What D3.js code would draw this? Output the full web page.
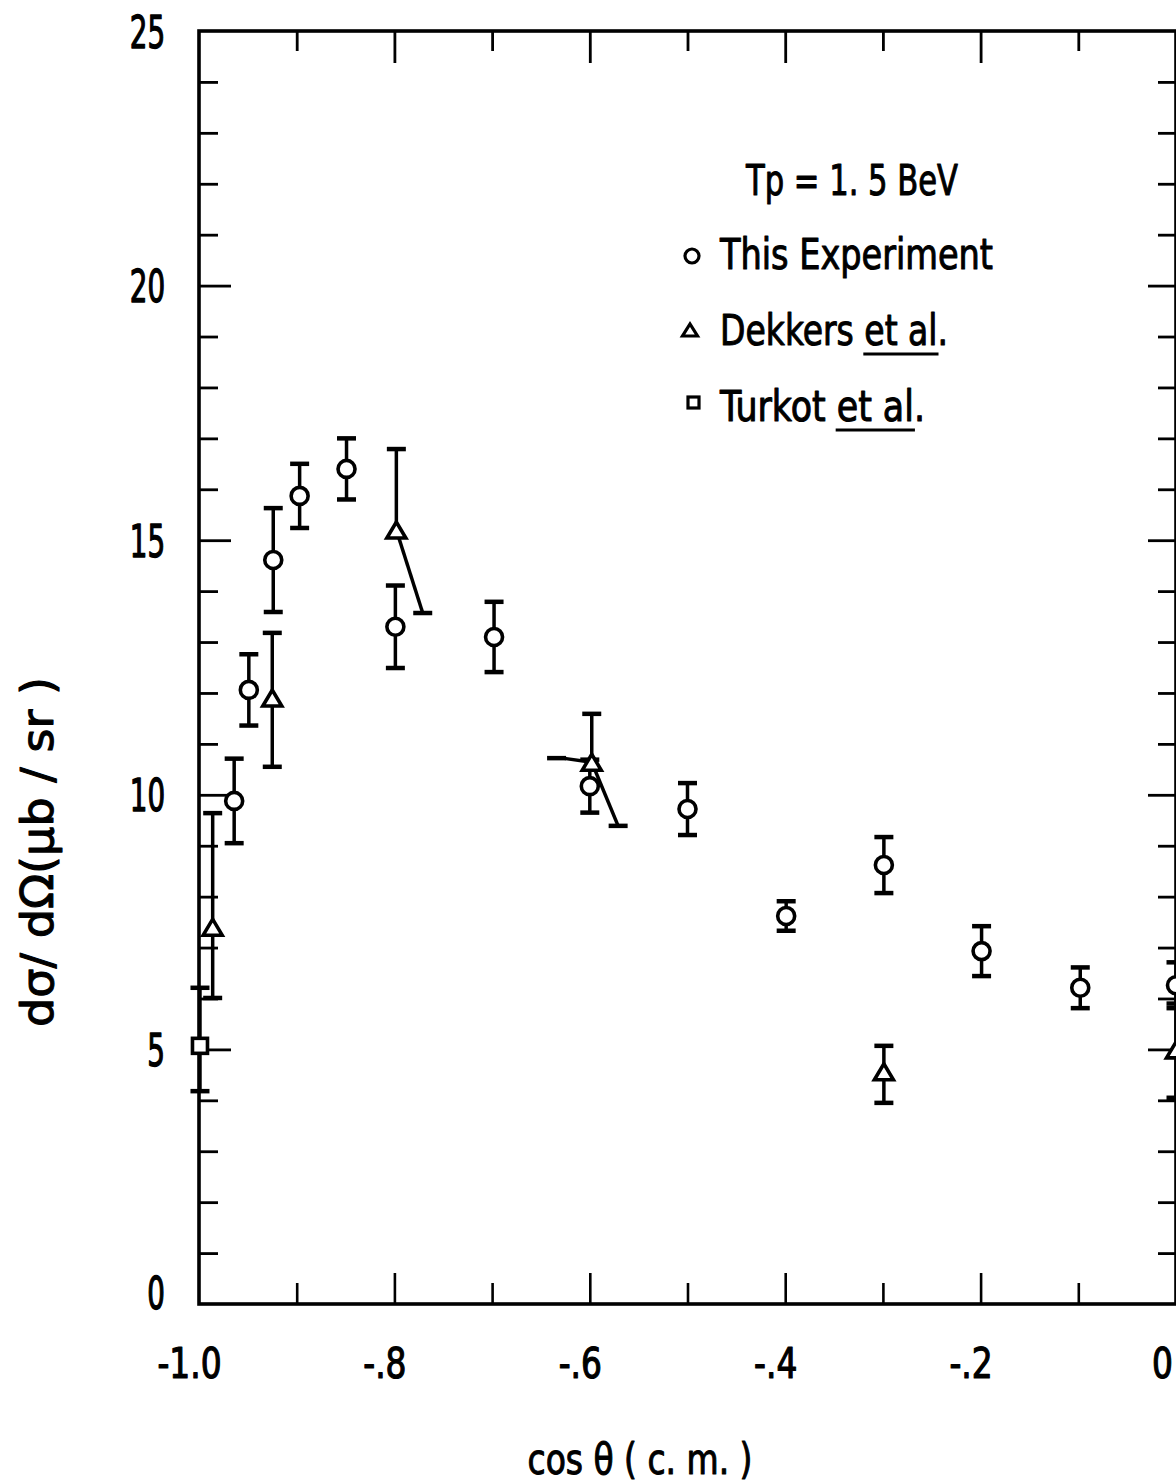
<!DOCTYPE html>
<html><head><meta charset="utf-8">
<script src="https://cdn.jsdelivr.net/npm/d3@7"></script>
<style>html,body{margin:0;padding:0;background:#fff;overflow:hidden}</style>
</head><body>
<svg id="chart" width="1176" height="1484"></svg>
<script>
// ---------- data ----------
// This Experiment (circles)
const expCos = [-0.964, -0.949, -0.924, -0.897, -0.849, -0.799, -0.698, -0.600, -0.500, -0.399, -0.299, -0.199, -0.098, 0.0];
const expVal = [9.88, 12.06, 14.61, 15.87, 16.40, 13.30, 13.10, 10.17, 9.72, 7.62, 8.62, 6.93, 6.21, 6.26];
const expErr = [0.83, 0.70, 1.02, 0.63, 0.60, 0.81, 0.69, 0.52, 0.51, 0.29, 0.55, 0.49, 0.40, 0.45];
// Dekkers et al. (triangles)
const dekCos  = [-0.986, -0.925, -0.798, -0.598, -0.299, 0.0];
const dekVal  = [7.40, 11.90, 15.20, 10.64, 4.56, 4.99];
const dekHigh = [9.64, 13.18, 16.79, 11.59, 5.07, 5.90];
const dekLow  = [6.01, 10.55, 13.57, 9.39, 3.95, 4.05];
const dekLowCos  = [-0.986, -0.925, -0.771, -0.571, -0.299, 0.0];
const dekSideCos = [null, null, null, -0.634, null, null];
const dekSideVal = [null, null, null, 10.72, null, null];
// Turkot et al. (square)
const turCos  = [-0.999];
const turVal  = [5.07];
const turHigh = [6.21];
const turLow  = [4.18];
// axes
const yMajor = [0, 5, 10, 15, 20, 25];
const yMinor = d3.range(1, 25).filter(v => v % 5 !== 0);
const yTickLabels = ["0", "5", "10", "15", "20", "25"];
const xMajor = [-1.0, -0.8, -0.6, -0.4, -0.2, 0.0];
const xMinor = [-0.9, -0.7, -0.5, -0.3, -0.1];
const xTickLabels = ["-1.0", "-.8", "-.6", "-.4", "-.2", "0"];
const xTitle = "cos \u03b8 ( c. m. )";
const yTitle = "d\u03c3/ d\u03a9(\u03bcb / sr )";
const legendTitle = "Tp = 1. 5 BeV";
const legendLabels = ["This Experiment", "Dekkers et al.", "Turkot et al."];
const legendUnderline = [null, "et al", "et al"];

// ---------- drawing ----------
const FONT = "'DejaVu Sans Condensed', 'DejaVu Sans', sans-serif";
const svg = d3.select("#chart");
const x = d3.scaleLinear().domain([-1, 0]).range([199, 1176]);
const y = d3.scaleLinear().domain([0, 25]).range([1304, 31]);

function squeeze(sel, k) {
  sel.each(function () {
    const w = this.getComputedTextLength();
    this.setAttribute("textLength", w * k);
    this.setAttribute("lengthAdjust", "spacingAndGlyphs");
  });
}
function fitTo(sel, w) {
  sel.attr("textLength", w).attr("lengthAdjust", "spacingAndGlyphs");
}
function heavy(sel, sw) {
  sel.attr("stroke", "#000").attr("stroke-width", sw).attr("stroke-linejoin", "round");
}
function styleAxis(g, sw) {
  g.select(".domain").remove();
  g.selectAll(".tick line").attr("stroke", "#000").attr("stroke-width", sw);
}

// tick marks
svg.append("g").attr("transform", "translate(199,0)")
  .call(d3.axisLeft(y).tickValues(yMinor).tickSize(-19).tickFormat(""))
  .call(g => styleAxis(g, 2.8));
svg.append("g").attr("transform", "translate(199,0)")
  .call(d3.axisLeft(y).tickValues([5, 10, 15, 20]).tickSize(-32).tickFormat(""))
  .call(g => styleAxis(g, 2.8));
svg.append("g").attr("transform", "translate(1176,0)")
  .call(d3.axisRight(y).tickValues(yMinor).tickSize(-18).tickFormat(""))
  .call(g => styleAxis(g, 2.8));
svg.append("g").attr("transform", "translate(1176,0)")
  .call(d3.axisRight(y).tickValues([5, 10, 15, 20]).tickSize(-28).tickFormat(""))
  .call(g => styleAxis(g, 2.8));
svg.append("g").attr("transform", "translate(0,31)")
  .call(d3.axisTop(x).tickValues(xMinor).tickSize(-20).tickFormat(""))
  .call(g => styleAxis(g, 2.8));
svg.append("g").attr("transform", "translate(0,31)")
  .call(d3.axisTop(x).tickValues(xMajor.slice(1, 5)).tickSize(-32).tickFormat(""))
  .call(g => styleAxis(g, 2.8));
svg.append("g").attr("transform", "translate(0,1304)")
  .call(d3.axisBottom(x).tickValues(xMinor).tickSize(-21).tickFormat(""))
  .call(g => styleAxis(g, 2.6));
svg.append("g").attr("transform", "translate(0,1304)")
  .call(d3.axisBottom(x).tickValues(xMajor.slice(1, 5)).tickSize(-31).tickFormat(""))
  .call(g => styleAxis(g, 2.6));

// tick labels
const yl = svg.append("g").attr("transform", "translate(199,0)")
  .call(d3.axisLeft(y).tickValues(yMajor).tickSize(0).tickPadding(34)
    .tickFormat((d, i) => yTickLabels[i]));
yl.select(".domain").remove();
yl.selectAll(".tick line").remove();
yl.attr("font-family", null).attr("font-size", null);
yl.selectAll("text").attr("font-family", FONT).attr("font-size", 44).attr("fill", "#000")
  .attr("dy", null).attr("y", d => d === 0 ? 4 : 16)
  .call(squeeze, 0.7).call(heavy, 1.3);

const xl = svg.append("g").attr("transform", "translate(0,1304)")
  .call(d3.axisBottom(x).tickValues(xMajor).tickSize(0).tickPadding(0)
    .tickFormat((d, i) => xTickLabels[i]));
xl.select(".domain").remove();
xl.selectAll(".tick line").remove();
xl.attr("font-family", null).attr("font-size", null);
xl.selectAll("text").attr("font-family", FONT).attr("font-size", 43).attr("fill", "#000")
  .attr("dy", null).attr("y", 74).attr("x", d => d === 0 ? -14 : -10)
  .call(squeeze, 0.85).call(heavy, 1.2);

// frame
svg.append("rect").attr("x", x(-1)).attr("y", y(25))
  .attr("width", x(0) - x(-1)).attr("height", y(0) - y(25))
  .attr("fill", "none").attr("stroke", "#000").attr("stroke-width", 3.6);

// axis titles
svg.append("text").attr("x", 640).attr("y", 1474).attr("text-anchor", "middle")
  .attr("font-family", FONT).attr("font-size", 42).text(xTitle)
  .call(fitTo, 225).call(heavy, 1);
svg.append("text").attr("transform", "translate(53,852) rotate(-90)")
  .attr("text-anchor", "middle").attr("font-family", FONT).attr("font-size", 45)
  .text(yTitle).call(fitTo, 350).call(heavy, 1.0);

// ---------- error bars ----------
const CAP = 9.5;
const eb = svg.append("g").attr("stroke", "#000").attr("fill", "none");
function vbar(cx, y1, y2) {
  eb.append("line").attr("x1", cx).attr("x2", cx).attr("y1", y1).attr("y2", y2).attr("stroke-width", 3.5);
}
function cap(cx, cy) {
  eb.append("line").attr("x1", cx - CAP).attr("x2", cx + CAP).attr("y1", cy).attr("y2", cy)
    .attr("stroke-width", 4.5);
}
expCos.forEach((c, i) => {
  const px = x(c), hi = y(expVal[i] + expErr[i]), lo = y(expVal[i] - expErr[i]);
  vbar(px, hi, lo); cap(px, hi); cap(px, lo);
});
dekCos.forEach((c, i) => {
  const px = x(c), py = y(dekVal[i]);
  const hi = y(dekHigh[i]);
  vbar(px, hi, py); cap(px, hi);
  const lx = x(dekLowCos[i]), ly = y(dekLow[i]);
  eb.append("line").attr("x1", px).attr("y1", py).attr("x2", lx).attr("y2", ly).attr("stroke-width", 3.5);
  cap(lx, ly);
  if (dekSideCos[i] !== null) {
    const sx = x(dekSideCos[i]), sy = y(dekSideVal[i]);
    eb.append("line").attr("x1", px).attr("y1", py).attr("x2", sx + 6).attr("y2", sy).attr("stroke-width", 3.5);
    cap(sx, sy);
  }
});
turCos.forEach((c, i) => {
  const px = x(c), hi = y(turHigh[i]), lo = y(turLow[i]);
  vbar(px, hi, lo); cap(px, hi); cap(px, lo);
});

// ---------- markers ----------
const mk = svg.append("g").attr("stroke", "#000").attr("stroke-width", 3.6).attr("fill", "#fff");
function triPath(cx, cy, w, h) {
  return `M${cx - w / 2},${cy + h / 2} L${cx + w / 2},${cy + h / 2} L${cx},${cy - h / 2} Z`;
}
mk.selectAll("circle.exp").data(expCos).join("circle").attr("class", "exp")
  .attr("cx", d => x(d)).attr("cy", (d, i) => y(expVal[i])).attr("r", 8.5);
mk.selectAll("path.dek").data(dekCos).join("path").attr("class", "dek")
  .attr("d", (d, i) => triPath(x(d), y(dekVal[i]), 19, 16)).attr("stroke-linejoin", "miter");
mk.selectAll("rect.tur").data(turCos).join("rect").attr("class", "tur")
  .attr("x", d => x(d) - 7.5).attr("y", (d, i) => y(turVal[i]) - 7.5)
  .attr("width", 15).attr("height", 15);

// ---------- legend ----------
const lg = svg.append("g").attr("font-family", FONT).attr("font-size", 43).attr("fill", "#000");
lg.append("text").attr("x", 746).attr("y", 195).text(legendTitle).call(fitTo, 212).call(heavy, 1);
const rowsY = [269, 345, 421];
const rowsW = [273, 228, 205];
rowsY.forEach((ry, i) => {
  const t = lg.append("text").attr("x", 720).attr("y", ry).text(legendLabels[i]);
  fitTo(t, rowsW[i]);
  heavy(t, 1);
  if (legendUnderline[i]) {
    const node = t.node();
    const s = legendLabels[i].indexOf(legendUnderline[i]);
    const e = s + legendUnderline[i].length - 1;
    const x1 = node.getStartPositionOfChar(s).x;
    const x2 = node.getEndPositionOfChar(e).x;
    lg.append("line").attr("x1", x1 - 1).attr("x2", x2 + 1).attr("y1", ry + 9).attr("y2", ry + 9)
      .attr("stroke", "#000").attr("stroke-width", 3);
  }
});
const lm = svg.append("g").attr("stroke", "#000").attr("stroke-width", 3.2).attr("fill", "#fff");
lm.append("circle").attr("cx", 692).attr("cy", 256).attr("r", 7);
lm.append("path").attr("d", triPath(690, 330, 15, 12));
lm.append("rect").attr("x", 688).attr("y", 397).attr("width", 11).attr("height", 11);
</script>
</body></html>
